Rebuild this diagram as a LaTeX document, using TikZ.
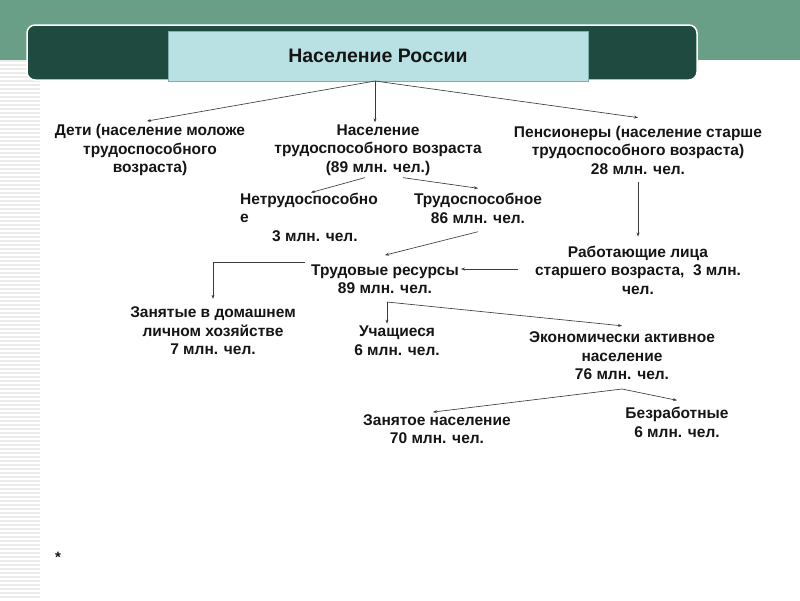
\documentclass[tikz,border=0pt]{standalone}
\usepackage{fontspec}
\setmainfont{Liberation Sans}
\usetikzlibrary{arrows.meta}
\definecolor{band}{HTML}{689F86}
\definecolor{darkbox}{HTML}{1F4A40}
\definecolor{lightbox}{HTML}{B9E0E3}
\definecolor{lightedge}{HTML}{7FAFAF}
\definecolor{linec}{HTML}{3C3C3C}
\definecolor{txtc}{HTML}{151515}
\tikzset{
  txt/.style={font=\bfseries\fontsize{15.5}{18.5}\selectfont, text=txtc, align=center, inner sep=2pt},
  arr/.style={draw=linec, line width=0.65pt, -{Stealth[length=4pt,width=3pt]}},
  ln/.style={draw=linec, line width=0.65pt}
}
\begin{document}
\begin{tikzpicture}[x=1pt,y=-1pt]
\useasboundingbox (0,0) rectangle (800,600);
\fill[white] (0,0) rectangle (800,600);
% background band
\fill[band] (0,0) rectangle (800,60);
\foreach \yy in {61,65,...,600} {\draw[gray!15, line width=1.6pt] (0,\yy) -- (40,\yy);}
\draw[darkbox, fill=darkbox, rounded corners=8pt, draw=white, line width=1.5pt] (27,25) rectangle (697,80);
\node[draw=lightedge, fill=lightbox, line width=1pt, minimum width=420pt, minimum height=50pt, inner sep=0pt,
      font=\bfseries\fontsize{19.5}{22}\selectfont, text=txtc] (root) at (378,56) {Население России};
\coordinate (rs) at (375,81);
% nodes
\node[txt] (deti) at (150,150) {Дети (население моложе\\трудоспособного\\возраста)};
\node[txt] (trud) at (378,150) {Население\\трудоспособного возраста\\(89 млн. чел.)};
\node[txt] (pens) at (638,150) {Пенсионеры (население старше\\трудоспособного возраста)\\28 млн. чел.};
\node[txt, align=left, anchor=west] (netr) at (238,217) {Нетрудоспособно\\е\\\hspace*{32pt}3 млн. чел.};
\node[txt] (tsp) at (478,208.5) {Трудоспособное\\86 млн. чел.};
\node[txt] (rab) at (638,270) {Работающие лица\\старшего возраста,~ 3 млн.\\чел.};
\node[txt] (tres) at (385,279) {Трудовые ресурсы\\89 млн. чел.};
\node[txt] (zan) at (213,331) {Занятые в домашнем\\личном хозяйстве\\7 млн. чел.};
\node[txt] (uch) at (397,340.5) {Учащиеся\\6 млн. чел.};
\node[txt] (eko) at (622,356) {Экономически активное\\население\\76 млн. чел.};
\node[txt] (zn) at (437,429) {Занятое население\\70 млн. чел.};
\node[txt] (bez) at (677,422.5) {Безработные\\6 млн. чел.};
\node[txt, font=\bfseries\fontsize{15}{16}\selectfont] (star) at (58,557) {*};
% connectors
\draw[arr] (rs) -- ([xshift=-3pt,yshift=1pt]deti.north);
\draw[arr] (rs) -- (rs |- trud.north);
\draw[arr] (rs) -- ([yshift=6pt]pens.north);
\draw[arr] ([xshift=-13pt]trud.south) -- ([xshift=2pt,yshift=-2pt]netr.north);
\draw[arr] ([xshift=25pt]trud.south) -- ([yshift=3pt]tsp.north);
\draw[arr] ([yshift=-6pt]tsp.south) -- ([yshift=7pt]tres.north);
\draw[arr] ([yshift=-6pt]pens.south) -- ([yshift=7pt]rab.north);
\coordinate (a1) at (518,269);
\draw[arr] (a1) -- (tres.east |- a1);
\coordinate (t1) at (305,262);
\draw[arr] (t1) -| ([yshift=6pt]zan.north);
\coordinate (t2) at (387,302);
\draw[arr] (t2) -- (t2 |- uch.north);
\draw[arr] (t2) -- ([yshift=4pt]eko.north);
\coordinate (e1) at (622,389);
\draw[arr] (e1) -- ([xshift=-4pt]zn.north);
\draw[arr] (e1) -- ([yshift=5pt]bez.north);
\end{tikzpicture}
\end{document}
